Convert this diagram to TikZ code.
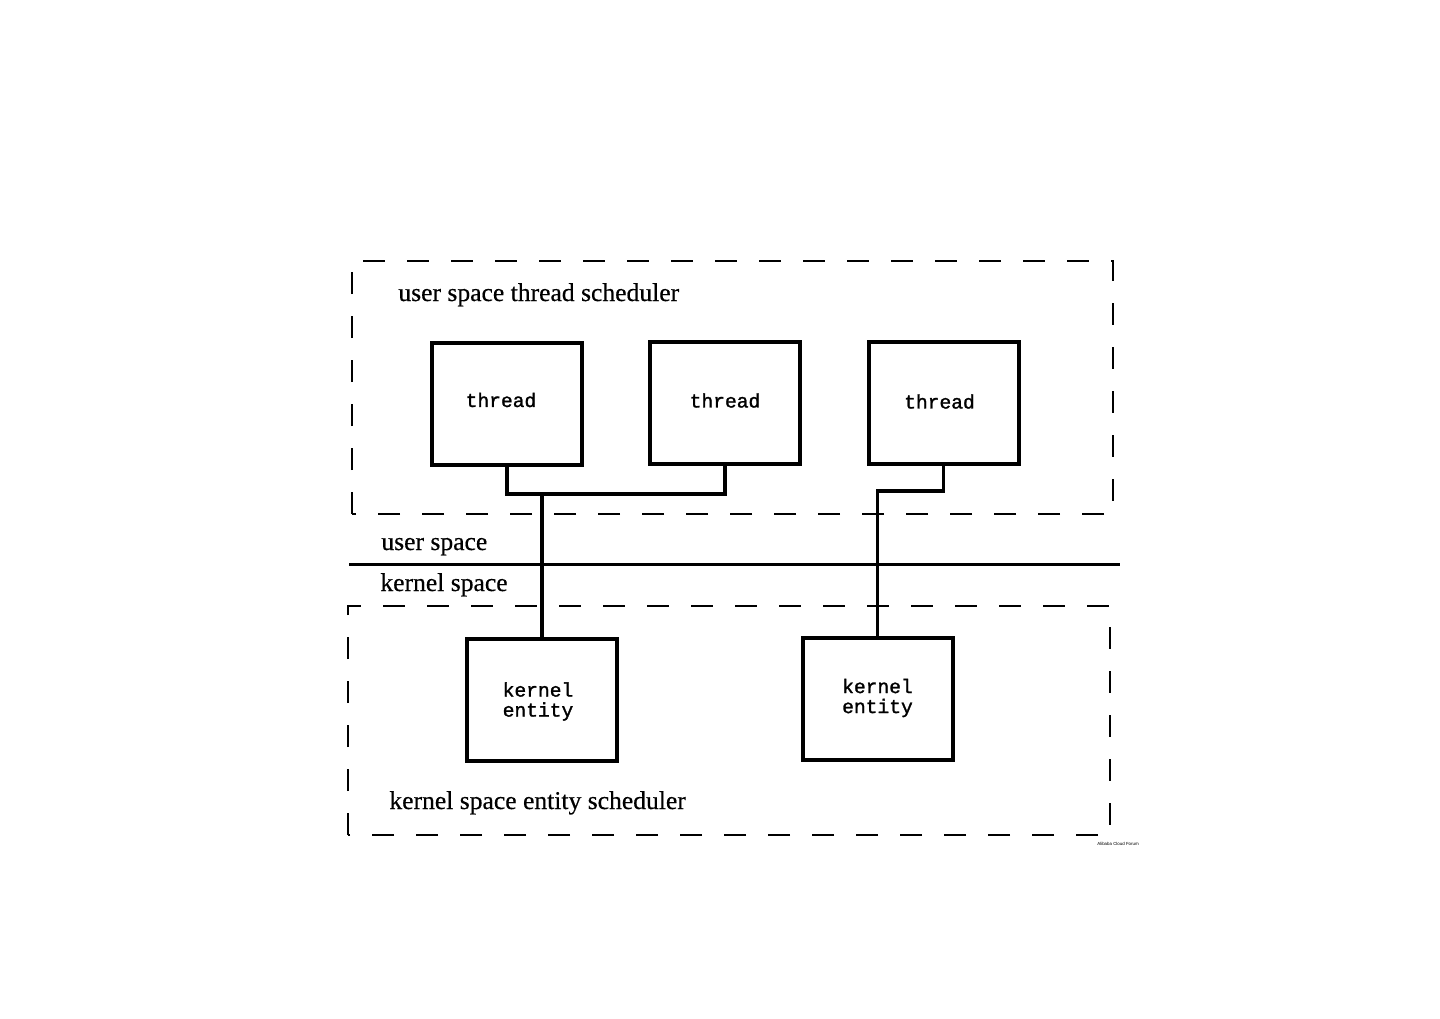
\documentclass[tikz,border=0pt]{standalone}
\usepackage{fontspec}
\setmainfont[FakeBold=0.5]{Liberation Serif}
\newfontfamily\monofont[FakeBold=1.4]{Liberation Mono}
\newfontfamily\tinyfont{Liberation Sans}
\begin{document}
\begin{tikzpicture}[x=0.5pt,y=-0.5pt,
  region/.style={line width=1.2pt,dash pattern=on 11pt off 11pt},
  unitbox/.style={draw,line width=2pt,inner sep=0pt,minimum width=75pt,minimum height=61pt},
  unittext/.style={inner sep=0pt,font=\monofont\fontsize{9.8}{10}\selectfont,align=center},
  wire/.style={line width=1.7pt},
  lbl/.style={inner sep=0pt,anchor=base west,font=\fontsize{12.8}{15}\selectfont}]
\useasboundingbox (0,0) rectangle (1440,1018);
% dashed regions
\coordinate (u1) at (352,514);
\coordinate (u2) at (1113,261);
\draw[region] (u1) -- (u1 |- u2) -- (u2) -- (u2 |- u1) -- cycle;
\coordinate (k1c) at (348,835);
\coordinate (k2c) at (1110,606);
\draw[region] (k1c) -- (k1c |- k2c) -- (k2c) -- (k2c |- k1c) -- cycle;
% separator
\coordinate (sepL) at (349,564);
\coordinate (sepR) at (1120,564);
\draw[line width=1.5pt] (sepL) -- (sepR);
% boxes
\node[unitbox] (t1) at (507,404) {};
\node[unitbox] (t2) at (725,402.5) {};
\node[unitbox] (t3) at (943.5,402.5) {};
\node[unitbox] (k1) at (542,699.5) {};
\node[unitbox] (k2) at (877.5,699) {};
\node[unittext] (t1t) at ([shift={(-6,-4)}]t1.center) {thread};
\node[unittext] (t2t) at ([shift={(0,-2)}]t2.center) {thread};
\node[unittext] (t3t) at ([shift={(-4,-1)}]t3.center) {thread};
\node[unittext] (k1t) at ([shift={(-4,2)}]k1.center) {kernel\\entity};
\node[unittext] (k2t) at ([shift={(0,-1)}]k2.center) {kernel\\entity};
% connectors
\coordinate (bar) at (0,494);
\coordinate (bar2) at (0,491);
\draw[wire] (t1.south) -- (t1.south |- bar) -- (t2.south |- bar) -- (t2.south);
\draw[wire] (k1.north) -- (k1.north |- bar);
\draw[wire] (t3.south) -- (t3.south |- bar2) -- (k2.north |- bar2) -- (k2.north);
% labels
\node[lbl] (l1) at (398,301) {user space thread scheduler};
\node[lbl] (l2) at (381,550) {user space};
\node[lbl] (l3) at (380,591) {kernel space};
\node[lbl] (l4) at (389,809) {kernel space entity scheduler};
\node[inner sep=0pt,anchor=base west,font=\tinyfont\fontsize{2.2}{3}\selectfont] (wm) at (1097,845) {Alibaba Cloud Forum};
\end{tikzpicture}
\end{document}
